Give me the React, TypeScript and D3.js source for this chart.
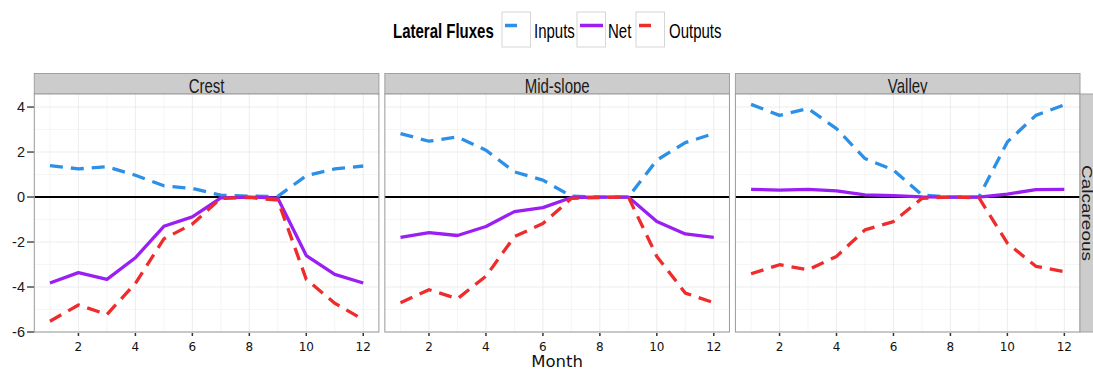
import * as d3 from 'd3';

// months on the x axis
const months = [1, 2, 3, 4, 5, 6, 7, 8, 9, 10, 11, 12];
const facets = ['Crest', 'Mid-slope', 'Valley'];
const rowLabel = 'Calcareous';
const seriesNames = ['Inputs', 'Net', 'Outputs'];
const xTicks = [2, 4, 6, 8, 10, 12];
const yTicks = [-6, -4, -2, 0, 2, 4];

// values
const crestInputs = [1.4, 1.25, 1.35, 0.97, 0.5, 0.38, 0.08, 0.04, 0.03, 0.95, 1.25, 1.38];
const crestNet = [-3.82, -3.36, -3.66, -2.7, -1.3, -0.88, -0.04, 0, -0.05, -2.6, -3.44, -3.82];
const crestOutputs = [-5.52, -4.8, -5.22, -3.84, -1.86, -1.2, -0.06, -0.02, -0.14, -3.66, -4.72, -5.45];

const midInputs = [2.82, 2.48, 2.67, 2.08, 1.12, 0.75, 0.04, 0, 0, 1.64, 2.42, 2.82];
const midNet = [-1.79, -1.58, -1.71, -1.31, -0.65, -0.47, -0.02, 0, 0, -1.09, -1.64, -1.79];
const midOutputs = [-4.7, -4.12, -4.52, -3.52, -1.76, -1.18, -0.06, -0.02, 0, -2.64, -4.27, -4.7];

const valleyInputs = [4.12, 3.63, 3.93, 3.04, 1.71, 1.2, 0.09, 0, 0, 2.45, 3.63, 4.1];
const valleyNet = [0.34, 0.31, 0.34, 0.27, 0.1, 0.06, 0.01, 0, 0, 0.13, 0.33, 0.34];
const valleyOutputs = [-3.41, -3.01, -3.23, -2.64, -1.46, -1.09, -0.06, 0, -0.03, -2.05, -3.08, -3.32];

const panelData: Record<string, number[][]> = {
  Crest: [crestInputs, crestNet, crestOutputs],
  'Mid-slope': [midInputs, midNet, midOutputs],
  Valley: [valleyInputs, valleyNet, valleyOutputs],
};

const colors: Record<string, string> = {
  Inputs: '#2b90e6',
  Net: '#9b1ff2',
  Outputs: '#ee2c2c',
};
const dashes: Record<string, string | undefined> = {
  Inputs: '13,8',
  Net: undefined,
  Outputs: '13,8',
};

const W = 1093;
const H = 370;
const stripTop = 73.5;
const panelTop = 94;
const panelBottom = 332;
const plotLeft = 34.3;
const plotRight = 1080;
const sq = 0.75; // the text in the picture is squeezed horizontally
const sans = '"Liberation Sans", Arial, sans-serif';

const App = () => {
  const fx = d3.scaleBand<string>()
    .domain(facets)
    .range([plotLeft, plotRight])
    .paddingInner(0.017);
  const bw = fx.bandwidth();

  const x = d3.scaleLinear().domain([0.45, 12.55]).range([0, bw]);
  const y = d3.scaleLinear().domain([-6.0, 4.58]).range([panelBottom, panelTop]);

  const line = d3.line<number>()
    .x((_, i) => x(months[i]))
    .y(d => y(d));

  const xMinor = d3.range(1, 13, 2);
  const yMinor = d3.range(-5, 5, 2);

  // legend layout
  const legendY = 25.5;
  const boxX = [502, 577, 636];
  const textX = [534, 608, 669];

  return (
    <svg width={W} height={H} style={{ position: 'absolute', left: 0, top: 0, background: '#fff' }}>
      <defs>
        {facets.map(f => (
          <clipPath id={`strip-${f}`} key={f}>
            <rect x={fx(f)} y={stripTop} width={bw} height={panelTop - stripTop} />
          </clipPath>
        ))}
      </defs>

      {/* legend */}
      <g fontFamily={sans} fontSize={20}>
        <text transform={`translate(393,38) scale(${sq},1)`} fontWeight="bold" fill="#000">Lateral Fluxes</text>
        {seriesNames.map((s, i) => (
          <g key={s}>
            <rect x={boxX[i]} y={12} width={28.5} height={35} fill="#fff" stroke="#d6d6d6" strokeWidth={1} />
            <line
              x1={boxX[i] + 3}
              x2={s === 'Net' ? boxX[i] + 26 : boxX[i] + 15}
              y1={legendY}
              y2={legendY}
              stroke={colors[s]}
              strokeWidth={3.5}
            />
            <text transform={`translate(${textX[i]},38) scale(${sq},1)`} fill="#000">{s}</text>
          </g>
        ))}
      </g>

      {/* y axis */}
      <g fontFamily={sans} fontSize={14.5} fill="#1a1a1a">
        {yTicks.map(t => (
          <g key={t}>
            <line x1={27} x2={plotLeft} y1={y(t)} y2={y(t)} stroke="#333" strokeWidth={1.3} />
            <text x={25} y={y(t)} dy="0.36em" textAnchor="end">{t}</text>
          </g>
        ))}
      </g>

      {facets.map(f => {
        const px = fx(f) ?? 0;
        const series = panelData[f];
        return (
          <g key={f}>
            {/* strip */}
            <rect x={px} y={stripTop} width={bw} height={panelTop - stripTop} fill="#cccccc" stroke="#a0a0a0" strokeWidth={1} />
            <g clipPath={`url(#strip-${f})`}>
              <text
                transform={`translate(${px + bw / 2},92.5) scale(${sq},1)`}
                textAnchor="middle"
                fontFamily={sans}
                fontSize={20}
                fill="#1a1a1a"
              >
                {f}
              </text>
            </g>

            {/* panel */}
            <g transform={`translate(${px},0)`}>
              <rect x={0} y={panelTop} width={bw} height={panelBottom - panelTop} fill="#fff" />
              {xMinor.map(t => (
                <line key={`xm${t}`} x1={x(t)} x2={x(t)} y1={panelTop} y2={panelBottom} stroke="#f5f5f5" strokeWidth={1} />
              ))}
              {yMinor.map(t => (
                <line key={`ym${t}`} x1={0} x2={bw} y1={y(t)} y2={y(t)} stroke="#f5f5f5" strokeWidth={1} />
              ))}
              {xTicks.map(t => (
                <line key={`xg${t}`} x1={x(t)} x2={x(t)} y1={panelTop} y2={panelBottom} stroke="#e8e8e8" strokeWidth={0.8} />
              ))}
              {yTicks.map(t => (
                <line key={`yg${t}`} x1={0} x2={bw} y1={y(t)} y2={y(t)} stroke="#e8e8e8" strokeWidth={0.8} />
              ))}

              <line x1={0} x2={bw} y1={y(0)} y2={y(0)} stroke="#000" strokeWidth={2} />

              {seriesNames.map((s, i) => (
                <path
                  key={s}
                  d={line(series[i]) ?? ''}
                  fill="none"
                  stroke={colors[s]}
                  strokeWidth={3.3}
                  strokeDasharray={dashes[s]}
                  strokeLinejoin="round"
                />
              ))}

              <rect x={0} y={panelTop} width={bw} height={panelBottom - panelTop} fill="none" stroke="#9a9a9a" strokeWidth={1} />

              {/* x axis */}
              {xTicks.map(t => (
                <g key={`xt${t}`}>
                  <line x1={x(t)} x2={x(t)} y1={panelBottom + 1} y2={panelBottom + 4} stroke="#333" strokeWidth={1.5} />
                  <text
                    x={x(t)}
                    y={351}
                    textAnchor="middle"
                    fontFamily='"DejaVu Sans", sans-serif'
                    fontSize={12}
                    fill="#111"
                  >
                    {t}
                  </text>
                </g>
              ))}
            </g>
          </g>
        );
      })}

      {/* right strip */}
      <rect x={plotRight} y={panelTop} width={20} height={panelBottom - panelTop} fill="#cccccc" stroke="#a0a0a0" strokeWidth={1} />
      <text
        transform={`translate(1081.5,${(panelTop + panelBottom) / 2}) rotate(90) scale(1,${sq})`}
        textAnchor="middle"
        fontFamily={sans}
        fontSize={19}
        fill="#1a1a1a"
      >
        {rowLabel}
      </text>

      {/* axis title */}
      <text
        x={(plotLeft + plotRight) / 2}
        y={367}
        textAnchor="middle"
        fontFamily='"DejaVu Sans", sans-serif'
        fontSize={16.5}
        fill="#111"
      >
        Month
      </text>
    </svg>
  );
};

export default App;
